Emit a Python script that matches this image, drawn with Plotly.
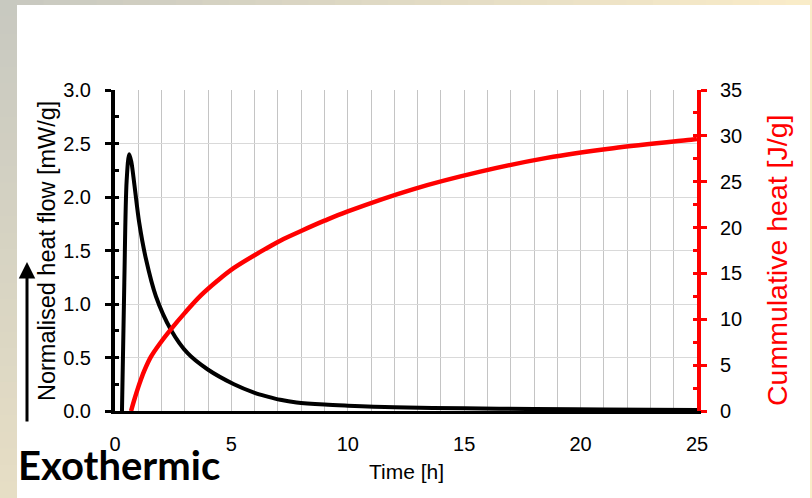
import plotly.graph_objects as go

# Normalised heat flow (mW/g) against time (h)
flow_time = [0.30, 0.40, 0.50, 0.61, 0.70, 0.83, 1.04, 1.33, 1.76, 2.40, 3.12,
             3.97, 5.11, 6.00, 6.55, 7.10, 7.80, 9.00, 10.0, 12.0, 15.0, 18.0,
             21.0, 25.0]
flow_value = [0.00, 1.20, 2.15, 2.40, 2.33, 2.12, 1.76, 1.42, 1.07, 0.76, 0.54,
              0.39, 0.25, 0.17, 0.135, 0.105, 0.08, 0.06, 0.05, 0.035, 0.025,
              0.018, 0.014, 0.010]

# Cumulative heat (J/g) against time (h)
heat_time = [0.69, 0.85, 1.00, 1.11, 1.26, 1.54, 1.97, 2.40, 3.00, 3.69, 4.40,
             5.11, 6.55, 7.12, 7.97, 9.00, 9.97, 12.83, 15.69, 18.55, 21.40,
             24.83, 25.0]
heat_value = [0.0, 1.4, 2.6, 3.4, 4.4, 5.9, 7.5, 8.9, 10.7, 12.6, 14.2,
              15.6, 17.8, 18.6, 19.6, 20.75, 21.74, 24.2, 26.1, 27.6, 28.65,
              29.6, 29.65]

x_ticks = [0, 5, 10, 15, 20, 25]

W, H = 812, 498
ML, MR, MT, MB = 115, 115, 90, 87
PW, PH = W - ML - MR, H - MT - MB


def px(x):
    return (x - ML) / PW


def py(y):
    return (H - MB - y) / PH


GRAY = (199, 200, 192)
BEIGE = (250, 236, 200)


def frame_color(x, y):
    s = min(1.0, max(0.0, x / W + 0.6 * y / H))
    r, g, b = (round(GRAY[i] + s * (BEIGE[i] - GRAY[i])) for i in range(3))
    return f"rgb({r},{g},{b})"


shapes = []
# top band
n = 30
for i in range(n):
    x0 = 17 + (W - 17) * i / n
    x1 = 17 + (W - 17) * (i + 1) / n + 1
    shapes.append(dict(type="rect", xref="paper", yref="paper",
                       x0=px(x0), x1=px(x1), y0=py(5), y1=py(0),
                       fillcolor=frame_color((x0 + x1) / 2, 2), line_width=0,
                       layer="below"))
# left band
n = 30
for i in range(n):
    y0 = H * i / n
    y1 = H * (i + 1) / n + 1
    shapes.append(dict(type="rect", xref="paper", yref="paper",
                       x0=px(0), x1=px(17), y0=py(y1), y1=py(y0),
                       fillcolor=frame_color(8, (y0 + y1) / 2), line_width=0,
                       layer="below"))
# right band
shapes.append(dict(type="rect", xref="paper", yref="paper",
                   x0=px(810), x1=px(W), y0=py(H), y1=py(0),
                   fillcolor="rgb(250,236,200)", line_width=0, layer="below"))

FONT = "Liberation Sans, Arial, sans-serif"

fig = go.Figure()
fig.add_trace(go.Scatter(x=flow_time, y=flow_value, mode="lines",
                         line=dict(color="black", width=4, shape="spline",
                                   smoothing=0.9),
                         showlegend=False, hoverinfo="skip"))
fig.add_trace(go.Scatter(x=heat_time, y=heat_value, mode="lines", yaxis="y2",
                         line=dict(color="#ff0000", width=4.5, shape="spline",
                                   smoothing=1.0),
                         showlegend=False, hoverinfo="skip"))
# carriers for the inner tick marks
fig.add_trace(go.Scatter(x=[], y=[], yaxis="y3", showlegend=False,
                         hoverinfo="skip"))
fig.add_trace(go.Scatter(x=[], y=[], yaxis="y4", showlegend=False,
                         hoverinfo="skip"))

fig.update_layout(
    width=W, height=H, autosize=False,
    margin=dict(l=ML, r=MR, t=MT, b=MB, pad=0),
    paper_bgcolor="white", plot_bgcolor="white",
    font=dict(family=FONT, color="black", size=20),
    xaxis=dict(range=[0, 25], tickvals=x_ticks, ticktext=[str(v) for v in x_ticks],
               showgrid=True, gridcolor="#c4c4c4", gridwidth=1,
               minor=dict(dtick=1, tick0=0, showgrid=True, gridcolor="#c4c4c4",
                          gridwidth=1),
               showline=True, linecolor="black", linewidth=3, ticks="",
               ticklabelstandoff=13, zeroline=False,
               tickfont=dict(size=20, family=FONT)),
    yaxis=dict(range=[0, 3], dtick=0.5, tick0=0, tickformat=".1f",
               showgrid=True, gridcolor="#d9d9d9", gridwidth=1,
               showline=True, linecolor="black", linewidth=4,
               ticks="outside", ticklen=6, tickwidth=3, tickcolor="black",
               ticklabelstandoff=10, zeroline=False,
               tickfont=dict(size=20, family=FONT)),
    yaxis2=dict(range=[0, 35], dtick=5, tick0=0, overlaying="y", side="right",
                showgrid=False, showline=True, linecolor="#ff0000", linewidth=4,
                ticks="outside", ticklen=6, tickwidth=3, tickcolor="#ff0000",
                ticklabelstandoff=9, zeroline=False,
                tickfont=dict(size=20, family=FONT, color="black")),
    yaxis3=dict(range=[0, 3], dtick=0.25, tick0=0, overlaying="y", side="left",
                showgrid=False, showline=False, ticks="inside", ticklen=4,
                tickwidth=3, tickcolor="black", showticklabels=False,
                zeroline=False),
    yaxis4=dict(range=[0, 35], dtick=2.5, tick0=0, overlaying="y", side="right",
                showgrid=False, showline=False, ticks="inside", ticklen=4,
                tickwidth=3, tickcolor="#ff0000", showticklabels=False,
                zeroline=False),
    shapes=shapes,
    annotations=[
        dict(text="Normalised heat flow [mW/g]", xref="paper", yref="paper",
             x=px(47), y=py(251), textangle=-90, showarrow=False,
             xanchor="center", yanchor="middle",
             font=dict(size=23.5, family=FONT, color="black")),
        dict(text="Cummulative heat [J/g]", xref="paper", yref="paper",
             x=px(777), y=py(261), textangle=-90, showarrow=False,
             xanchor="center", yanchor="middle",
             font=dict(size=28.5, family=FONT, color="#ff0000")),
        dict(text="Time [h]", xref="paper", yref="paper",
             x=px(406), y=py(471), showarrow=False,
             xanchor="center", yanchor="middle",
             font=dict(size=21, family=FONT, color="black")),
        dict(text="<b>Exothermic</b>", xref="paper", yref="paper",
             x=px(16), y=py(465), showarrow=False,
             xanchor="left", yanchor="middle",
             font=dict(size=40, family="Lato, Carlito, sans-serif",
                       color="black")),
        dict(text="", xref="paper", yref="paper", x=px(27), y=py(262),
             showarrow=True, ax=0, ay=161, axref="pixel", ayref="pixel",
             arrowhead=2, arrowsize=1.1, arrowwidth=3, arrowcolor="black",
             standoff=0),
    ],
)

fig.write_html("out.html")
